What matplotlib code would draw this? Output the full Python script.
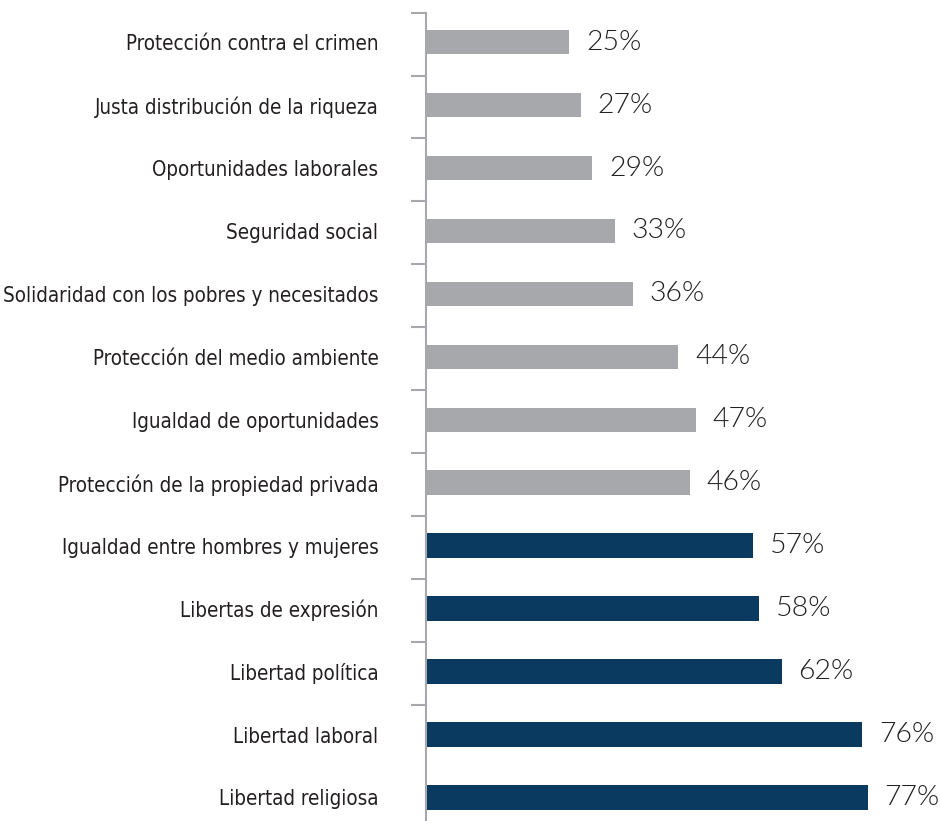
import matplotlib
matplotlib.use("Agg")
import matplotlib.pyplot as plt
import numpy as np

# categories from top to bottom
categories = [
    "Protección contra el crimen",
    "Justa distribución de la riqueza",
    "Oportunidades laborales",
    "Seguridad social",
    "Solidaridad con los pobres y necesitados",
    "Protección del medio ambiente",
    "Igualdad de oportunidades",
    "Protección de la propiedad privada",
    "Igualdad entre hombres y mujeres",
    "Libertas de expresión",
    "Libertad política",
    "Libertad laboral",
    "Libertad religiosa",
]
values = [25, 27, 29, 33, 36, 44, 47, 46, 57, 58, 62, 76, 77]
# 0 = gray group, 1 = highlighted group
groups = [0, 0, 0, 0, 0, 0, 0, 0, 1, 1, 1, 1, 1]

GRAY = "#a7a8ab"
NAVY = "#0b3a60"
TEXT = "#231f20"
palette = {0: GRAY, 1: NAVY}

W, H = 941, 821
fig = plt.figure(figsize=(W / 100, H / 100), dpi=100)
ax_left = 425.7 / W
ax = fig.add_axes([ax_left, 0, 1 - ax_left, 1])

y = np.arange(len(categories))
colors = [palette[g] for g in groups]
ax.barh(y, values, height=0.39, color=colors, zorder=2)

for yi, v in zip(y, values):
    ax.annotate(f"{v}%", xy=(v, yi), xytext=(12, 0), textcoords="offset points",
                ha="left", va="center", fontsize=20.5, color=TEXT,
                family=["Lato", "DejaVu Sans"], fontweight=300)

ax.set_xlim(0, 89.7)
ax.set_ylim(12.374, -0.67)

for s in ["top", "right", "bottom"]:
    ax.spines[s].set_visible(False)
ax.spines["left"].set_color(GRAY)
ax.spines["left"].set_linewidth(1.5)
ax.spines["left"].set_bounds(-0.47, 12.374)

ax.set_xticks([])
ax.set_yticks(y)
ax.set_yticklabels(categories, fontsize=14.8, color=TEXT,
                   family=["DejaVu Sans"], fontstretch="condensed",
                   fontweight="normal")
ax.tick_params(axis="y", which="major", length=0, pad=34)
ax.set_yticks(np.arange(len(categories) - 1) - 0.47, minor=True)
ax.tick_params(axis="y", which="minor", length=10.5, width=1.5, color=GRAY)

fig.savefig("out.png", dpi=100)
